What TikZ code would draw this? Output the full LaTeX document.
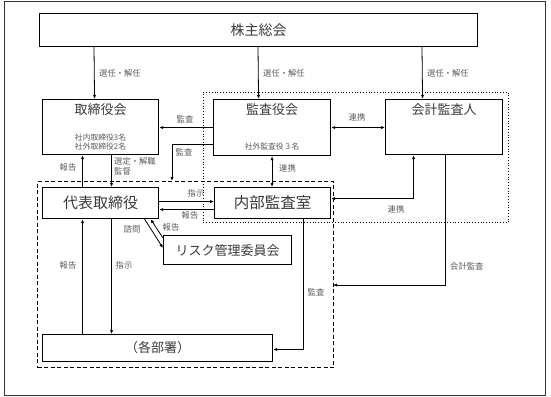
\documentclass[tikz,border=0pt]{standalone}
\usepackage{fontspec}
\setmainfont{Noto Sans CJK JP}
\usetikzlibrary{positioning,arrows.meta}
\definecolor{titlegray}{HTML}{3A3A3A}
\definecolor{notegray}{HTML}{5A5A5A}

\begin{document}
\begin{tikzpicture}[x=1pt, y=-1pt,
  org/.style={draw, line width=1.1pt, fill=white, anchor=north west, inner sep=0pt},
  head/.style={text=titlegray, inner sep=0pt, font=\fontsize{13}{15}\selectfont},
  sub/.style={text=notegray, inner sep=0pt, align=center, font=\fontsize{7.8}{9.5}\selectfont},
  note/.style={text=notegray, inner sep=1pt, align=left, font=\fontsize{8.3}{10}\selectfont},
  link/.style={-{Latex[length=4pt,width=3.2pt]}, line width=0.8pt},
  link2/.style={{Latex[length=4pt,width=3.2pt]}-{Latex[length=4pt,width=3.2pt]}, line width=0.8pt},
  ]
  \useasboundingbox (0,0) rectangle (551,396);
  \node[draw, line width=0.9pt, color=black!80, anchor=north west, minimum width=541pt, minimum height=394pt] (frame) at (4,1) {};

  % groups
  \node[draw, dotted, line width=0.8pt, anchor=north west, minimum width=305pt, minimum height=130pt] (audit) at (203,92) {};
  \node[draw, dashed, dash pattern=on 4pt off 2.5pt, line width=1.1pt, anchor=north west, minimum width=296pt, minimum height=186pt] (ctrl) at (37,181) {};

  % boxes
  \node[org, minimum width=438pt, minimum height=33pt] (kabu) at (39,13) {};
  \node[head, font=\fontsize{14}{16}\selectfont] (kabut) at (kabu.center) {株主総会};

  \node[org, minimum width=116pt, minimum height=55pt] (tori) at (42,99) {};
  \node[head] (torit) at ([yshift=-11pt]tori.north) {取締役会};
  \node[sub] (toris) at ([yshift=13pt]tori.south) {社内取締役3名\\社外取締役2名};

  \node[org, minimum width=117pt, minimum height=56pt] (kansa) at (213,99) {};
  \node[head] (kansat) at ([yshift=-11pt]kansa.north) {監査役会};
  \node[sub] (kansas) at ([yshift=10pt]kansa.south) {社外監査役３名};

  \node[org, minimum width=117pt, minimum height=55pt] (kaikei) at (385,99) {};
  \node[head] (kaikeit) at ([yshift=-11pt]kaikei.north) {会計監査人};

  \node[org, minimum width=116pt, minimum height=31pt] (daihyo) at (42,187) {};
  \node[head, font=\fontsize{15}{17}\selectfont] (daihyot) at (daihyo.center) {代表取締役};

  \node[org, minimum width=116pt, minimum height=31pt] (naibu) at (214,187) {};
  \node[head, font=\fontsize{15.5}{17}\selectfont] (naibut) at (naibu.center) {内部監査室};

  \node[org, minimum width=128pt, minimum height=29pt] (risk) at (163,235) {};
  \node[head] (riskt) at (risk.center) {リスク管理委員会};

  \node[org, minimum width=230pt, minimum height=27pt] (bumon) at (42,334) {};
  \node[head] (bumont) at (bumon.center) {（各部署）};

  % free ends and bends
  \coordinate (ksend) at (172,181);
  \coordinate (kkend) at (333,285);

  % from the shareholders
  \draw[link] (kabu.south -| 94,0) -- ([xshift=-6pt]tori.north);
  \draw[link] (kabu.south -| 258,0) -- ([xshift=-13.5pt]kansa.north);
  \draw[link] (kabu.south -| 422,0) -- ([xshift=-21.5pt]kaikei.north);
  \node[note, anchor=west] (s1) at (98,73) {選任・解任};
  \node[note, anchor=west] (s2) at (262,73) {選任・解任};
  \node[note, anchor=west] (s3) at (426,73) {選任・解任};

  % audit board
  \draw[link] (kansa.west) -- (kansa.west -| tori.east);
  \node[note] (a1) at (185,119) {監査};
  \draw[link] ([yshift=-17pt]kansa.west) -| (ksend);
  \node[note] (a2) at (184,152) {監査};
  \draw[link2] (kansa.east) -- (kansa.east -| kaikei.west);
  \node[note] (r1) at (357,117) {連携};
  \draw[link2] (kansa.south) -- (kansa.south |- naibu.north);
  \node[note, anchor=west] (r2) at (278,168) {連携};
  \draw[link2] ([yshift=4.5pt]naibu.east) -| ([xshift=-30.5pt]kaikei.south);
  \node[note] (r3) at (396,209) {連携};
  \draw[link] ([xshift=1.5pt]kaikei.south) |- (kkend);
  \node[note, anchor=west] (a3) at (449,266) {会計監査};

  % board and CEO
  \draw[link] ([xshift=-18pt]daihyo.north) -- ([xshift=-18pt]tori.south);
  \node[note] (h1) at (68,167) {報告};
  \draw[link] ([xshift=11pt]tori.south) -- ([xshift=11pt]daihyo.north);
  \node[note, anchor=west] (h2) at (113,166) {選定・解職\\監督};

  % CEO and internal audit
  \draw[link] ([yshift=1.5pt]daihyo.east) -- ([yshift=1.5pt]naibu.west);
  \node[note] (i1) at (196,193) {指示};
  \draw[link] ([yshift=-6.5pt]naibu.west) -- ([yshift=-6.5pt]daihyo.east);
  \node[note] (i2) at (190,215) {報告};

  % risk committee
  \draw[link] ([xshift=44pt]daihyo.south) -- ([yshift=2pt]risk.west);
  \node[note] (q1) at (132,229) {諮問};
  \draw[link] ([yshift=-3pt]risk.north west) -- ([xshift=50pt]daihyo.south);
  \node[note] (q2) at (171,227) {報告};

  % departments
  \draw[link] ([xshift=-75pt]bumon.north) -- ([xshift=-18pt]daihyo.south);
  \node[note] (d1) at (68,265) {報告};
  \draw[link] ([xshift=11pt]daihyo.south) -- ([xshift=-46pt]bumon.north);
  \node[note] (d2) at (124,265) {指示};
  \draw[link] ([xshift=31pt]naibu.south) |- ([yshift=-1.5pt]bumon.east);
  \node[note] (d3) at (316,292) {監査};
\end{tikzpicture}
\end{document}
